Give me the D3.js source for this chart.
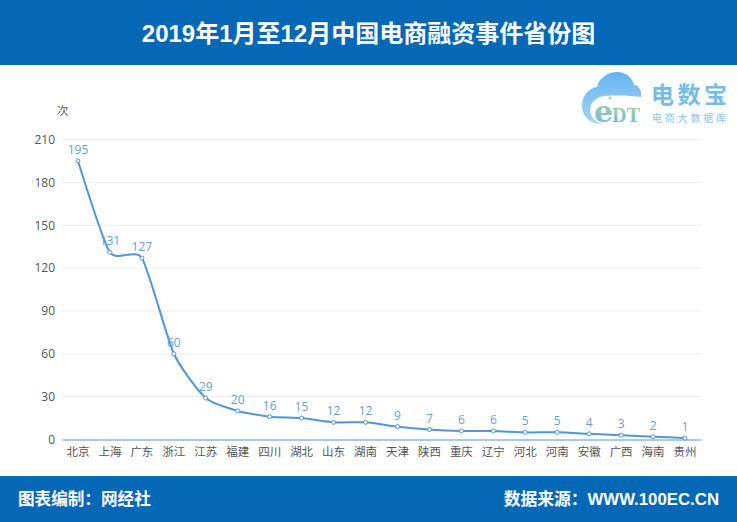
<!DOCTYPE html>
<html>
<head>
<meta charset="utf-8">
<script src="https://cdn.jsdelivr.net/npm/d3@7/dist/d3.min.js"></script>
<style>
html,body{margin:0;padding:0;background:#fff;}
svg{display:block;}
text{font-family:"Noto Sans CJK SC","Noto Sans",sans-serif;}
</style>
</head>
<body>
<svg id="chart" width="737" height="522"></svg>
<script>
const provinces=["北京","上海","广东","浙江","江苏","福建","四川","湖北","山东","湖南","天津","陕西","重庆","辽宁","河北","河南","安徽","广西","海南","贵州"];
const counts=[195,131,127,60,29,20,16,15,12,12,9,7,6,6,5,5,4,3,2,1];
const yTicks=[0,30,60,90,120,150,180,210];
const titleText="2019年1月至12月中国电商融资事件省份图";
const footerLeft="图表编制：网经社";
const footerRight="数据来源：WWW.100EC.CN";

const svg=d3.select('#chart');
const blue='#0568b7';
const lineColor='#4f96da';
const valueColor='#639fdc';
const labelFont='"Open Sans","Noto Sans",sans-serif';
const headFont='"Liberation Sans","Noto Sans CJK SC",sans-serif';

// header and footer
svg.append('rect').attr('width',737).attr('height',65).attr('fill',blue);
svg.append('rect').attr('y',476).attr('width',737).attr('height',46).attr('fill',blue);
svg.append('text').attr('x',368.5).attr('y',42).attr('text-anchor','middle')
  .attr('font-size',24).attr('font-weight',700).attr('fill','#fff')
  .style('font-family',headFont).text(titleText);
svg.append('text').attr('x',18).attr('y',505)
  .attr('font-size',16.6).attr('font-weight',700).attr('fill','#fff')
  .style('font-family',headFont).text(footerLeft);
svg.append('text').attr('x',719).attr('y',505).attr('text-anchor','end')
  .attr('font-size',16.8).attr('font-weight',700).attr('fill','#fff')
  .style('font-family',headFont).text(footerRight);

const x=d3.scaleBand().domain(provinces).range([62,701]);
const y=d3.scaleLinear().domain([0,210]).range([439.5,139.5]);
const cx=d=>x(d)+x.bandwidth()/2;

// grid
svg.append('g').selectAll('line').data(yTicks.filter(d=>d>0)).enter().append('line')
  .attr('x1',62).attr('x2',701)
  .attr('y1',d=>y(d)).attr('y2',d=>y(d))
  .attr('stroke','#eeeeee').attr('stroke-width',1);

// axes
const yAxis=svg.append('g').attr('transform','translate(62,0)')
  .call(d3.axisLeft(y).tickValues(yTicks).tickSize(0).tickPadding(7));
yAxis.select('.domain').remove();
yAxis.selectAll('text').attr('font-size',12).attr('fill','#555')
  .style('font-family',labelFont);

const xAxis=svg.append('g').attr('transform','translate(0,439.5)')
  .call(d3.axisBottom(x).tickSize(0).tickPadding(8));
xAxis.select('.domain').attr('stroke',lineColor).attr('stroke-width',1);
xAxis.selectAll('text').attr('font-size',11.5).attr('fill','#555');

svg.append('text').attr('x',57).attr('y',115).attr('font-size',11.5).attr('fill','#555').text('次');

// line
const line=d3.line()
  .x((d,i)=>cx(provinces[i]))
  .y(d=>y(d))
  .curve(d3.curveCardinal.tension(0.4));
svg.append('path').datum(counts)
  .attr('d',line).attr('fill','none')
  .attr('stroke',lineColor).attr('stroke-width',2);

svg.append('g').selectAll('circle').data(counts).enter().append('circle')
  .attr('cx',(d,i)=>cx(provinces[i])).attr('cy',d=>y(d)).attr('r',2)
  .attr('fill','#fff').attr('stroke',lineColor).attr('stroke-width',1);

svg.append('g').selectAll('text').data(counts).enter().append('text')
  .attr('x',(d,i)=>cx(provinces[i])).attr('y',d=>y(d)-7)
  .attr('text-anchor','middle').attr('font-size',12).attr('fill',valueColor)
  .style('font-family',labelFont)
  .text(d=>d);

// logo
const defs=svg.append('defs');
const g1=defs.append('linearGradient').attr('id','cloudFill').attr('x1',0).attr('y1',0).attr('x2',0).attr('y2',1);
g1.append('stop').attr('offset',0).attr('stop-color','#66b4f2');
g1.append('stop').attr('offset',1).attr('stop-color','#a5d6f6');
const g2=defs.append('linearGradient').attr('id','edtFill').attr('x1',0).attr('y1',0).attr('x2',0).attr('y2',1);
g2.append('stop').attr('offset',0).attr('stop-color','#a8d88a');
g2.append('stop').attr('offset',1).attr('stop-color','#6db8e8');

const logo=svg.append('g');
logo.append('path')
  .attr('d','M602 124 C588 124 581 114 582 104 C583 94 590 88 597 87 C599 78 608 72 617 72 C627 72 633 79 634 85 C640 86 642 92 641 97 L600 104 L602 124 Z')
  .attr('fill','url(#cloudFill)');
logo.append('path')
  .attr('d','M604 124 C592 122 588 112 591 105 C594 99 600 96 606 96 C620 95 632 96 641 97 L641 124 Z')
  .attr('fill','#fff');
logo.append('text').attr('x',594).attr('y',122).attr('font-size',30).attr('font-weight',700)
  .attr('fill','url(#edtFill)').style('font-family','"DejaVu Serif",serif').text('e');
logo.append('circle').attr('cx',610).attr('cy',98).attr('r',1.4).attr('fill','#a8d88a');
logo.append('circle').attr('cx',606).attr('cy',95).attr('r',1).attr('fill','#a8d88a');
logo.append('text').attr('x',612).attr('y',122).attr('font-size',20).attr('font-weight',700)
  .attr('fill','url(#edtFill)').style('font-family','"Liberation Serif",serif')
  .attr('textLength',28).attr('lengthAdjust','spacingAndGlyphs').text('DT');
logo.append('text').attr('x',651).attr('y',103).attr('font-size',23).attr('font-weight',700)
  .attr('fill','#74bbee').attr('textLength',76).text('电数宝');
logo.append('text').attr('x',652).attr('y',122).attr('font-size',10)
  .attr('fill','#8cc5ee').attr('textLength',74).text('电商大数据库');
</script>
</body>
</html>
